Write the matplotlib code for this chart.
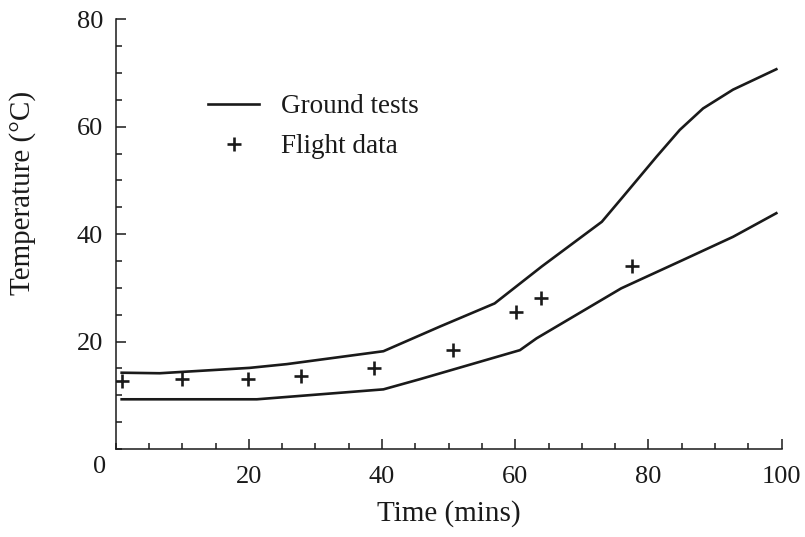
import matplotlib
matplotlib.use("Agg")
import matplotlib.pyplot as plt
from matplotlib.ticker import MultipleLocator

# ground test envelope (upper and lower bounds)
upper_x = [0.9, 6.6, 20.1, 25.7, 40.2, 48.7, 56.9, 64.0, 73.0, 76.2, 81.2, 84.7, 88.2, 92.7, 99.2]
upper_y = [14.2, 14.1, 15.1, 15.8, 18.2, 22.8, 27.1, 34.0, 42.3, 47.0, 54.4, 59.4, 63.4, 66.9, 70.7]
lower_x = [0.9, 21.2, 40.2, 45.7, 60.7, 63.2, 75.9, 78.7, 85.2, 92.7, 99.2]
lower_y = [9.25, 9.25, 11.1, 13.0, 18.4, 20.6, 29.9, 31.5, 35.2, 39.5, 43.9]

# flight data points
flight_x = [0.9, 9.9, 19.9, 27.9, 38.8, 50.7, 60.1, 63.9, 77.6]
flight_y = [12.7, 13.0, 13.0, 13.6, 15.0, 18.4, 25.5, 28.1, 34.1]

plt.rcParams['font.family'] = ['Liberation Serif', 'DejaVu Serif']

fig = plt.figure(figsize=(8.05, 5.37), dpi=100)
ax = fig.add_axes([0.1437, 0.1639, 0.8273, 0.8002])

ink = '#1a1a1a'
ax.plot(upper_x, upper_y, color=ink, lw=1.9, label='Ground tests')
ax.plot(lower_x, lower_y, color=ink, lw=1.9)
ax.plot(flight_x, flight_y, ls='none', marker='+', ms=10, mew=1.9,
        color=ink, label='Flight data')

ax.set_xlim(0, 100)
ax.set_ylim(0, 80)
ax.spines['top'].set_visible(False)
ax.spines['right'].set_visible(False)
for s in ('left', 'bottom'):
    ax.spines[s].set_linewidth(1.1)
    ax.spines[s].set_color(ink)

ax.xaxis.set_major_locator(MultipleLocator(20))
ax.xaxis.set_minor_locator(MultipleLocator(5))
ax.yaxis.set_major_locator(MultipleLocator(20))
ax.yaxis.set_minor_locator(MultipleLocator(5))
ax.tick_params(which='both', direction='in', color=ink, width=1.1)
ax.tick_params(which='major', length=7)
ax.tick_params(which='minor', length=4.5)
ax.tick_params(axis='x', which='major', labelsize=19, pad=12, labelcolor=ink)
ax.tick_params(axis='y', which='major', labelsize=19, pad=9, labelcolor=ink)

ax.set_xticks([20, 40, 60, 80, 100])
ax.set_yticks([20, 40, 60, 80])
ax.text(-2.4, -3.4, '0', fontsize=19, ha='center', va='center', clip_on=False, color=ink)

ax.set_xlabel('Time (mins)', fontsize=21, color=ink)
ax.set_ylabel('Temperature (°C)', fontsize=21, color=ink)
ax.xaxis.set_label_coords(0.5, -0.12)
ax.yaxis.set_label_coords(-0.12, 0.595)

leg = ax.legend(loc='upper left', bbox_to_anchor=(0.1386, 0.826), frameon=False,
                fontsize=19.5, handlelength=1.9, handletextpad=0.78,
                labelspacing=0.56, borderpad=0, borderaxespad=0)
for t in leg.get_texts():
    t.set_color(ink)

fig.savefig('out.png', dpi=100)
